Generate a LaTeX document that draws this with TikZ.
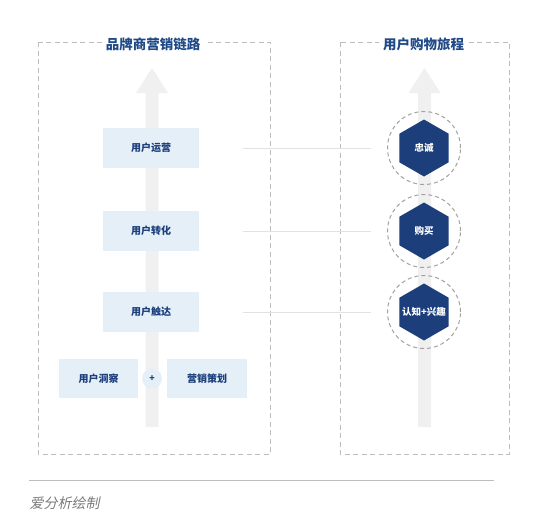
\documentclass[tikz,border=0pt]{standalone}
\usepackage{fontspec}
\setmainfont{Noto Sans CJK SC}
\newfontfamily\cjkit[FakeSlant=0.2]{Noto Sans CJK SC}
\usetikzlibrary{shapes.geometric, positioning, calc}
\definecolor{cnavy}{HTML}{1C3F7C}
\definecolor{ctitle}{HTML}{1F4A87}
\definecolor{clight}{HTML}{E4EFF8}
\definecolor{cshaft}{HTML}{F0F0F0}
\definecolor{cdash}{HTML}{BDBDBD}
\definecolor{cline}{HTML}{E2E2E2}
\definecolor{cnote}{HTML}{7A7A7A}
\tikzset{
  every picture/.style={line width=1pt},
  frame/.style={draw=cdash, dash pattern=on 5pt off 3.5pt},
  title/.style={font=\bfseries\fontsize{13.5}{15}\selectfont, text=ctitle, fill=white, inner sep=4pt},
  box/.style={fill=clight, text=cnavy, minimum width=96pt, minimum height=40pt, inner sep=2pt, font=\bfseries\fontsize{10}{12}\selectfont},
  hex/.style={regular polygon, regular polygon sides=6, shape border rotate=30, fill=cnavy, minimum size=57pt, inner sep=0pt},
  hextext/.style={text=white, inner sep=0pt, font=\bfseries\fontsize{9.5}{11}\selectfont},
  ring/.style={circle, draw=cdash!85!black, dash pattern=on 4pt off 3pt, minimum size=73pt, inner sep=0pt},
  link/.style={draw=cline},
  shaft/.style={fill=cshaft},
}

\begin{document}
\begin{tikzpicture}[x=1pt, y=-1pt]
  \useasboundingbox (0,0) rectangle (553,514);
  % frames
  \draw[frame] (38,42) rectangle (270,454);
  \draw[frame] (340,42) rectangle (509,454);
  % upward arrows
  \foreach \cx in {152,424.5}
    \fill[shaft] (\cx-6.5,427) -- (\cx-6.5,93) -- (\cx-16,93) -- (\cx,68) -- (\cx+16,93) -- (\cx+6.5,93) -- (\cx+6.5,427) -- cycle;
  \node[title] (tl) at (153,44) {品牌商营销链路};
  \node[title] (tr) at (423.5,44) {用户购物旅程};
  % brand chain
  \foreach \t/\y [count=\i] in {用户运营/148, 用户转化/231, 用户触达/312}
    \node[box] (b\i) at (151,\y) {\t};
  \node[box, minimum width=79pt, minimum height=39pt] (insight) at (98.5,378.5) {用户洞察};
  \node[box, minimum width=80pt, minimum height=39pt] (plan) at (207,378.5) {营销策划};
  \node[circle, fill=clight, text=cnavy, minimum size=20pt, inner sep=0pt, font=\bfseries\fontsize{9}{10}\selectfont] (plus) at (152,378.5) {+};
  % shopping journey
  \foreach \t/\y [count=\i] in {忠诚/148, 购买/231, 认知+兴趣/312} {
    \node[ring] (c\i) at (424,\y) {};
    \node[hex] (h\i) at (424,\y) {};
    \node[hextext] (t\i) at (h\i.center) {\t};
  }
  \foreach \i in {1,2,3}
    \draw[link, shorten <=43pt, shorten >=16pt] (b\i.east) -- (c\i.west);
  % footer
  \draw[draw=cdash] (29,480) -- (494,480);
  \node[anchor=west, inner sep=0pt, text=cnote, font=\cjkit\fontsize{14}{16}\selectfont] (src) at (29,503) {爱分析绘制};
\end{tikzpicture}
\end{document}
